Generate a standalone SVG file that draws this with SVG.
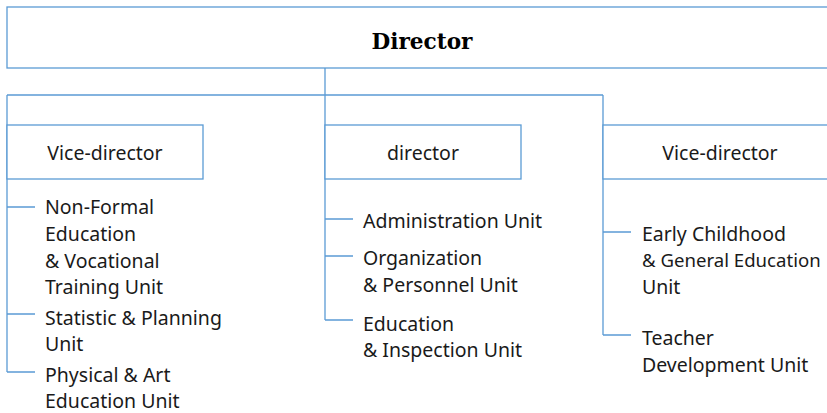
<svg xmlns="http://www.w3.org/2000/svg" width="827" height="413" viewBox="0 0 827 413">
<style>
.box{fill:#ffffff;stroke:#5b9bd5;stroke-width:1.3}
.ln{fill:none;stroke:#5b9bd5;stroke-width:1.3}
.t{font-family:"Noto Sans","Liberation Sans",sans-serif;font-size:19.5px;fill:#1a1a1a}
.c{text-anchor:middle}
.title{font-family:"DejaVu Serif","Liberation Serif",serif;font-weight:bold;font-size:21.6px;fill:#000;text-anchor:middle}
</style>
<rect width="827" height="413" fill="#ffffff"/>
<g id="connectors">
<path class="ln" d="M325 68V320M7 95H603M7 95V372M603 95V335"/>
<path class="ln" d="M7 207H35M7 314H35M7 372H35"/>
<path class="ln" d="M325 219H353M325 256H353M325 320H353"/>
<path class="ln" d="M603 232H631M603 335H631"/>
</g>
<g id="director">
<rect class="box" x="7" y="7" width="830" height="61"/>
<text class="title" x="422" y="48.5">Director</text>
</g>
<g id="vice-director-left">
<rect class="box" x="7" y="125" width="196" height="54"/>
<text class="t c" x="105" y="159.5">Vice-director</text>
</g>
<g id="director-mid">
<rect class="box" x="325" y="125" width="196" height="54"/>
<text class="t c" x="423" y="159.5">director</text>
</g>
<g id="vice-director-right">
<rect class="box" x="603" y="125" width="240" height="54"/>
<text class="t c" x="720" y="159.5">Vice-director</text>
</g>
<g id="unit-nonformal">
<text class="t" x="45" y="214">Non-Formal</text>
<text class="t" x="45" y="241">Education</text>
<text class="t" x="45" y="267.5">&amp; Vocational</text>
<text class="t" x="45" y="294">Training Unit</text>
</g>
<g id="unit-statistic">
<text class="t" x="45" y="325">Statistic &amp; Planning</text>
<text class="t" x="45" y="351">Unit</text>
</g>
<g id="unit-physical">
<text class="t" x="45" y="381.5">Physical &amp; Art</text>
<text class="t" x="45" y="408">Education Unit</text>
</g>
<g id="unit-administration">
<text class="t" x="363" y="228">Administration Unit</text>
</g>
<g id="unit-organization">
<text class="t" x="363" y="265">Organization</text>
<text class="t" x="363" y="292">&amp; Personnel Unit</text>
</g>
<g id="unit-education">
<text class="t" x="363" y="331">Education</text>
<text class="t" x="363" y="357">&amp; Inspection Unit</text>
</g>
<g id="unit-early">
<text class="t" x="642" y="241">Early Childhood</text>
<text class="t" x="642" y="267" style="font-size:18.6px">&amp; General Education</text>
<text class="t" x="642" y="294">Unit</text>
</g>
<g id="unit-teacher">
<text class="t" x="642" y="345">Teacher</text>
<text class="t" x="642" y="372">Development Unit</text>
</g>
</svg>
